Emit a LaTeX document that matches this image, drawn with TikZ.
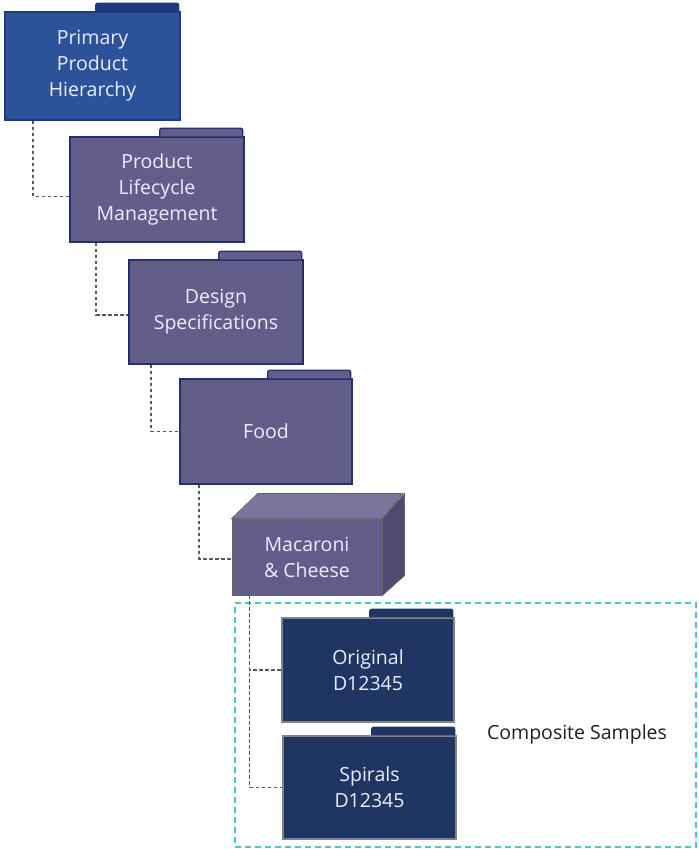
\documentclass[tikz,border=0pt]{standalone}
\usepackage{fontspec}
\setmainfont{Open Sans}

\definecolor{hierblue}{RGB}{44,82,154}
\definecolor{hierline}{RGB}{30,58,122}
\definecolor{plmpurple}{RGB}{99,93,138}
\definecolor{plmline}{RGB}{36,48,110}
\definecolor{samplenavy}{RGB}{31,53,98}
\definecolor{sampleline}{RGB}{130,130,135}
\definecolor{cubefront}{RGB}{98,92,136}
\definecolor{cubetop}{RGB}{124,118,159}
\definecolor{cubeside}{RGB}{79,74,114}
\definecolor{groupcyan}{RGB}{72,200,200}

% tab on top of a folder node: #1 node, #2 fill, #3 line
\newcommand{\foldertab}[3]{%
  \filldraw[fill=#2,draw=#3,line width=1.3pt,rounded corners=2pt]
    ([xshift=-85pt]#1.north east) -- ++(0,-8) -- ++(83,0) -- ([xshift=-2pt]#1.north east);
}

\begin{document}
\begin{tikzpicture}[x=1pt,y=-1pt,
  folder/.style={rectangle,inner sep=0pt,line width=1.5pt,text=white!93!blue,
    font=\fontsize{19.5}{26}\selectfont,align=center},
  link/.style={draw=black!65,line width=1.6pt,dash pattern=on 3.5pt off 2.5pt}]
  \useasboundingbox (0,0) rectangle (699,849);

  %Shape: Folder
  \node[folder,fill=hierblue,draw=hierline,minimum width=175pt,minimum height=108pt] (prim) at (92.5,66) {Primary\\Product\\Hierarchy};
  \foldertab{prim}{hierline}{hierline}
  %Shape: Folder
  \node[folder,fill=plmpurple,draw=plmline,minimum width=174pt,minimum height=105pt] (plm) at (157,189.5) {Product\\Lifecycle\\Management};
  \foldertab{plm}{plmpurple}{plmline}
  %Shape: Folder
  \node[folder,fill=plmpurple,draw=plmline,minimum width=174pt,minimum height=104pt] (spec) at (216,312) {Design\\Specifications};
  \foldertab{spec}{plmpurple}{plmline}
  %Shape: Folder
  \node[folder,fill=plmpurple,draw=plmline,minimum width=172pt,minimum height=105pt] (food) at (266,431.5) {Food};
  \foldertab{food}{plmpurple}{plmline}

  %Shape: Cube
  \node[folder,fill=cubefront,draw=black!60,line width=0.8pt,minimum width=150pt,minimum height=76pt] (mac) at (307,557) {Macaroni\\\& Cheese};
  \filldraw[fill=cubetop,draw=black!60,line width=0.8pt] (mac.north west) -- ++(26,-25) -- ++(145,0) -- (mac.north east) -- cycle;
  \filldraw[fill=cubeside,draw=black!60,line width=0.8pt] (mac.north east) -- ++(22,-25) -- ++(0,82) -- (mac.south east) -- cycle;

  %Shape: Group box
  \node[draw=groupcyan,line width=1.3pt,dash pattern=on 6pt off 4pt,minimum width=461pt,minimum height=244pt,inner sep=0pt] (grp) at (465.5,725) {};
  % Text Node
  \node[font=\fontsize{19.5}{24}\selectfont,text=black!88] (comp) at (577,734) {Composite Samples};

  %Shape: Folder
  \node[folder,fill=samplenavy,draw=sampleline,minimum width=172pt,minimum height=104pt] (orig) at (368,670) {Original\\D12345};
  \foldertab{orig}{samplenavy}{samplenavy}
  %Shape: Folder
  \node[folder,fill=samplenavy,draw=sampleline,minimum width=173pt,minimum height=103pt] (spir) at (369.5,787.5) {Spirals\\D12345};
  \foldertab{spir}{samplenavy}{samplenavy}

  %Straight Lines
  \draw[link] ([xshift=29pt]prim.south west) |- ([yshift=-7pt]plm.west);
  \draw[link] ([xshift=27pt]plm.south west) |- ([yshift=-3pt]spec.west);
  \draw[link] ([xshift=23pt]spec.south west) |- (food.west);
  \draw[link] ([xshift=20pt]food.south west) |- ([yshift=-2pt]mac.west);
  \draw[link] ([xshift=18pt]mac.south west) |- (orig.west);
  \draw[link] ([xshift=18pt]mac.south west) |- (spir.west);
\end{tikzpicture}
\end{document}
